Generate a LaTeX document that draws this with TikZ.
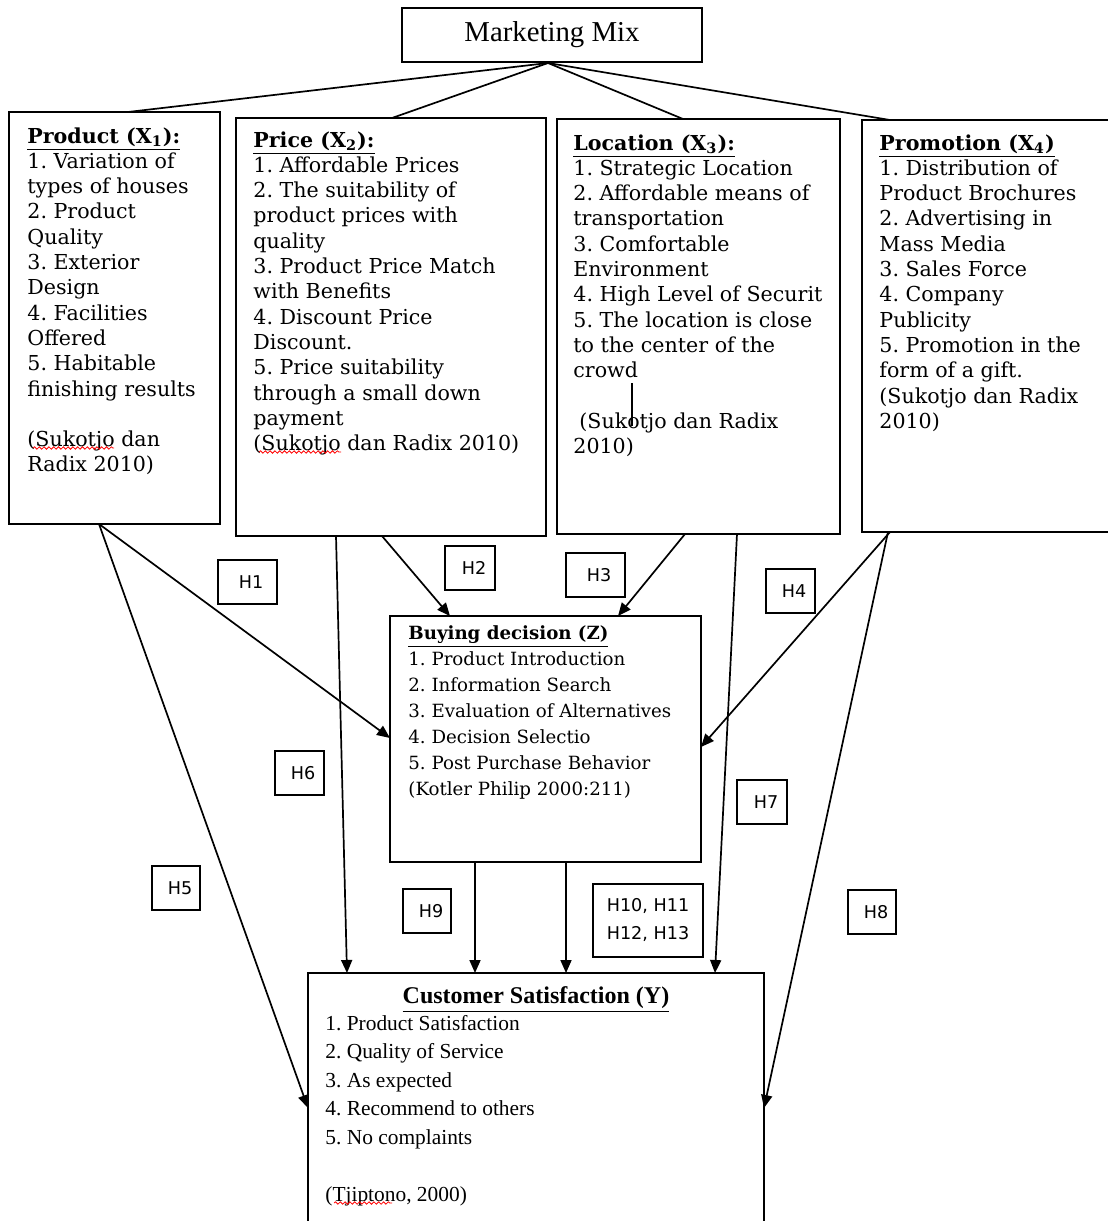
\documentclass[tikz,border=0pt]{standalone}
\usepackage{fontspec}
\setmainfont{DejaVu Serif}
\newfontfamily\timesfont{Liberation Serif}
\newfontfamily\labelfont{DejaVu Sans}
\usetikzlibrary{arrows.meta,calc,decorations.pathmorphing}

\newcommand{\boxhead}[1]{\underline{\textbf{#1}}}
\frenchspacing

\begin{document}
\begin{tikzpicture}[x=0.5pt, y=-0.5pt]
    \tikzset{
        frame/.style = {
            draw,
            line width = 1pt,
            inner sep = 0pt,
            outer sep = 0pt,
            anchor = north west
        },
        items/.style = {
            inner sep = 0pt,
            anchor = north west,
            align = left,
            font = \fontsize{10.3}{12.65}\selectfont
        },
        hyp/.style = {
            draw,
            line width = 1pt,
            inner sep = 0pt,
            font = \labelfont\fontsize{8.8}{14}\selectfont
        },
        link/.style = {line width = 0.85pt},
        arr/.style = {line width = 0.85pt, -{Triangle[length = 6.5pt, width = 5.5pt]}},
        squiggle/.style = {
            red, line width = 0.4pt, decorate,
            decoration = {snake, amplitude = 0.6pt, segment length = 2.4pt}
        }
    }

    \useasboundingbox (0,0) rectangle (1108,1221);

    % boxes
    \node[frame, minimum width = 150pt, minimum height = 27pt,
          font = \timesfont\fontsize{14.4}{16}\selectfont] (mix) at (402,8) {Marketing Mix};
    \node[frame, minimum width = 105.5pt, minimum height = 206pt] (prod) at (9,112) {};
    \node[frame, minimum width = 155pt, minimum height = 209pt] (price) at (236,118) {};
    \node[frame, minimum width = 141.5pt, minimum height = 207.5pt] (loc) at (557,119) {};
    \node[frame, minimum width = 130pt, minimum height = 206pt] (promo) at (862,120) {};
    \node[frame, minimum width = 155.5pt, minimum height = 123pt] (buy) at (390,616) {};
    \node[frame, minimum width = 228pt, minimum height = 135pt] (cs) at (308,973) {};

    % box texts
    \node[items] (prodtxt) at (27,127) {\boxhead{Product (X\textsubscript{1}):}\\
        1. Variation of\\ types of houses\\ 2. Product\\ Quality\\
        3. Exterior\\ Design\\ 4. Facilities\\ Offered\\
        5. Habitable\\ finishing results\\[12.65pt]
        (Sukotjo dan\\ Radix 2010)};
    \node[items] (pricetxt) at (253,131) {\boxhead{Price (X\textsubscript{2}):}\\
        1. Affordable Prices\\ 2. The suitability of\\ product prices with\\ quality\\
        3. Product Price Match\\ with Benefits\\ 4. Discount Price\\ Discount.\\
        5. Price suitability\\ through a small down\\ payment\\
        (Sukotjo dan Radix 2010)};
    \node[items] (loctxt) at (573,134) {\boxhead{Location (X\textsubscript{3}):}\\
        1. Strategic Location\\ 2. Affordable means of\\ transportation\\
        3. Comfortable\\ Environment\\ 4. High Level of Securit\\
        5. The location is close\\ to the center of the\\ crowd\\[12.65pt]
        \hspace{3pt}(Sukotjo dan Radix\\ 2010)};
    \node[items] (promotxt) at (879,134) {\boxhead{Promotion (X\textsubscript{4})}\\
        1. Distribution of\\ Product Brochures\\ 2. Advertising in\\ Mass Media\\
        3. Sales Force\\ 4. Company\\ Publicity\\
        5. Promotion in the\\ form of a gift.\\
        (Sukotjo dan Radix\\ 2010)};
    \node[items, font = \fontsize{9.1}{13}\selectfont] (buytxt) at (408,625) {\boxhead{Buying decision (Z)}\\
        1. Product Introduction\\ 2. Information Search\\ 3. Evaluation of Alternatives\\
        4. Decision Selectio\\ 5. Post Purchase Behavior\\
        (Kotler Philip 2000:211)};
    \node[anchor = base, font = \timesfont\bfseries\fontsize{12}{14}\selectfont] (cshead)
        at (536,1003) {\underline{Customer Satisfaction (Y)}};
    \node[items, font = \timesfont\fontsize{10.7}{14.25}\selectfont] (cstxt) at (325,1015) {%
        1. Product Satisfaction\\ 2. Quality of Service\\ 3. As expected\\
        4. Recommend to others\\ 5. No complaints\\[14.25pt]
        (Tjiptono, 2000)};

    % stray cursor mark and spell-check marks
    \draw[line width = 0.6pt] (632,383) -- (632,426);
    \draw[squiggle] (33,448) -- (114,448);
    \draw[squiggle] (259,452) -- (341,452);
    \draw[squiggle] (334,1203) -- (392,1203);

    % lines from the marketing mix
    \draw[link] ($(mix.south)+(-4,1)$) -- ($(prod.north west)+(119,0)$);
    \draw[link] ($(mix.south)+(-4,1)$) -- ($(price.north west)+(156,0)$);
    \draw[link] ($(mix.south)+(-4,1)$) -- ($(loc.north west)+(126,0)$);
    \draw[link] ($(mix.south)+(-4,1)$) -- ($(promo.north west)+(28,0)$);

    % hypotheses
    \draw[arr] ($(prod.south west)+(90,0)$) -- ($(buy.north west)+(0,122)$);
    \draw[arr] ($(prod.south west)+(90,0)$) -- ($(cs.north west)+(0,135)$);
    \draw[arr] ($(price.south west)+(146,0)$) -- ($(buy.north west)+(60,0)$);
    \draw[arr] ($(price.south west)+(100,0)$) -- ($(cs.north west)+(39,0)$);
    \draw[arr] ($(loc.south west)+(128,0)$) -- ($(buy.north west)+(228,0)$);
    \draw[arr] ($(loc.south west)+(180,0)$) -- ($(cs.north west)+(407,0)$);
    \draw[arr] ($(promo.south west)+(28,0)$) -- ($(buy.north east)+(0,131)$);
    \draw[arr] ($(promo.south west)+(26,0)$) -- ($(cs.north east)+(0,135)$);
    \draw[arr] ($(buy.south west)+(85,0)$) -- ($(cs.north west)+(167,0)$);
    \draw[arr] ($(buy.south west)+(176,0)$) -- ($(cs.north west)+(258,0)$);

    % hypothesis labels
    \foreach \n/\x/\y/\w in {1/247/582/59, 2/470/568/50, 3/595/575/59, 4/790/591/49,
                             5/176/888/48, 6/299/773/49, 7/762/802/50, 8/872/912/48,
                             9/427/911/48}{
        \node[hyp, minimum width = \w*0.5pt, minimum height = 22pt] (h\n) at (\x,\y) {\hspace{4pt}H\n};
    }
    \node[hyp, minimum width = 55pt, minimum height = 36.5pt, align = center] (h10)
        at (648,920) {H10, H11\\ H12, H13};

\end{tikzpicture}
\end{document}
